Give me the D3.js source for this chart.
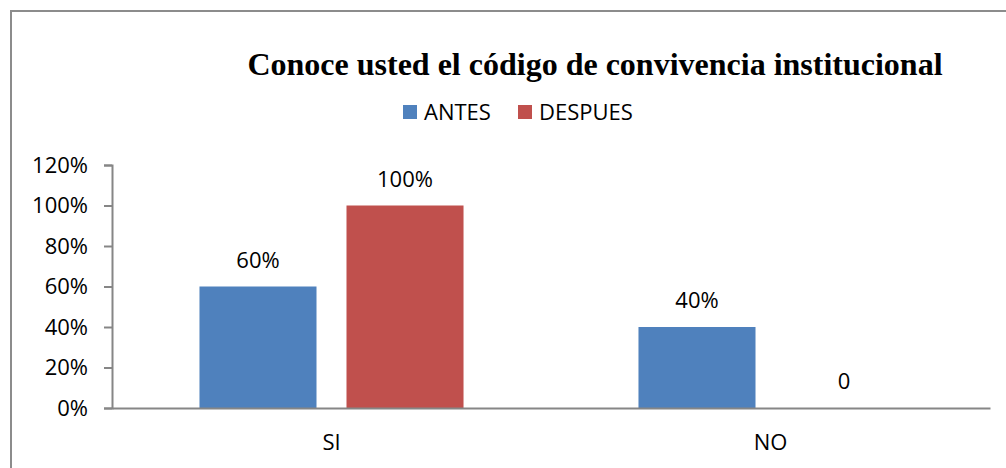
<!DOCTYPE html>
<html>
<head>
<meta charset="utf-8">
<script src="https://cdn.jsdelivr.net/npm/d3@7"></script>
<style>
  body { margin: 0; background: #fff; }
  svg { display: block; }
</style>
</head>
<body>
<svg id="chart" width="1006" height="468"></svg>
<script>
const title = 'Conoce usted el código de convivencia institucional';
const categories = ['SI', 'NO'];
const seriesNames = ['ANTES', 'DESPUES'];
const antes = [0.6, 0.4];
const despues = [1.0, 0];
const valueLabels = [['60%', '100%'], ['40%', '0']];
const yTicks = [0, 0.2, 0.4, 0.6, 0.8, 1.0, 1.2];
const colors = ['#4f81bd', '#c0504d'];

const svg = d3.select('#chart');
const font = "'Open Sans', sans-serif";
const fontSize = '22px';
const axisColor = '#868686';

// outer frame (runs off the right and bottom edge like the source)
svg.append('rect')
  .attr('x', 11).attr('y', 11)
  .attr('width', 1020).attr('height', 480)
  .attr('fill', 'none')
  .attr('stroke', '#8c8c8c')
  .attr('stroke-width', 2);

const margin = {top: 165, left: 112, right: 990, bottom: 408};

const x = d3.scaleBand()
  .domain(categories)
  .range([margin.left, margin.right]);

const x1 = d3.scaleBand()
  .domain(seriesNames)
  .range([0, x.bandwidth()])
  .paddingInner(0.204)
  .paddingOuter(0.595);

const y = d3.scaleLinear()
  .domain([0, 1.2])
  .range([margin.bottom, margin.top]);

// y axis
const yAxis = svg.append('g')
  .attr('transform', `translate(${margin.left},0)`)
  .call(d3.axisLeft(y).tickValues(yTicks).tickSize(8).tickPadding(16)
    .tickFormat(d3.format('.0%')));
yAxis.select('.domain').attr('stroke', axisColor).attr('stroke-width', 2);
yAxis.selectAll('line').attr('stroke', axisColor).attr('stroke-width', 2);
yAxis.selectAll('text').attr('fill', '#000')
  .style('font-family', font).style('font-size', fontSize);

// bars
const rows = categories.map((c, i) => ({cat: c, vals: [antes[i], despues[i]], labels: valueLabels[i]}));

const groups = svg.append('g').selectAll('g')
  .data(rows)
  .enter().append('g')
  .attr('transform', d => `translate(${x(d.cat)},0)`);

groups.selectAll('rect')
  .data(d => d.vals.map((v, j) => ({key: seriesNames[j], v: v, j: j})))
  .enter().append('rect')
  .attr('x', d => x1(d.key))
  .attr('y', d => y(d.v))
  .attr('width', x1.bandwidth())
  .attr('height', d => y(0) - y(d.v))
  .attr('fill', d => colors[d.j]);

groups.selectAll('text.val')
  .data(d => d.vals.map((v, j) => ({key: seriesNames[j], v: v, label: d.labels[j]})))
  .enter().append('text')
  .attr('class', 'val')
  .attr('x', d => x1(d.key) + x1.bandwidth() / 2)
  .attr('y', d => y(d.v) - 19)
  .attr('text-anchor', 'middle')
  .style('font-family', font).style('font-size', fontSize)
  .text(d => d.label);

// x axis
const xAxis = svg.append('g')
  .attr('transform', `translate(0,${margin.bottom})`)
  .call(d3.axisBottom(x).tickSize(0).tickPadding(26));
xAxis.select('.domain').attr('stroke', axisColor).attr('stroke-width', 2);
xAxis.selectAll('text').attr('fill', '#000')
  .style('font-family', font).style('font-size', fontSize);

// title
svg.append('text')
  .attr('x', 595).attr('y', 75)
  .attr('text-anchor', 'middle')
  .style('font-family', "'Liberation Serif', 'Times New Roman', serif")
  .style('font-weight', 'bold')
  .style('font-size', '32px')
  .text(title);

// legend
const legendX = [403, 518];
const legend = svg.append('g').selectAll('g')
  .data(seriesNames)
  .enter().append('g')
  .attr('transform', (d, i) => `translate(${legendX[i]},105)`);
legend.append('rect')
  .attr('width', 14).attr('height', 14)
  .attr('fill', (d, i) => colors[i]);
legend.append('text')
  .attr('x', 21).attr('y', 15)
  .style('font-family', font).style('font-size', fontSize)
  .text(d => d);
</script>
</body>
</html>
